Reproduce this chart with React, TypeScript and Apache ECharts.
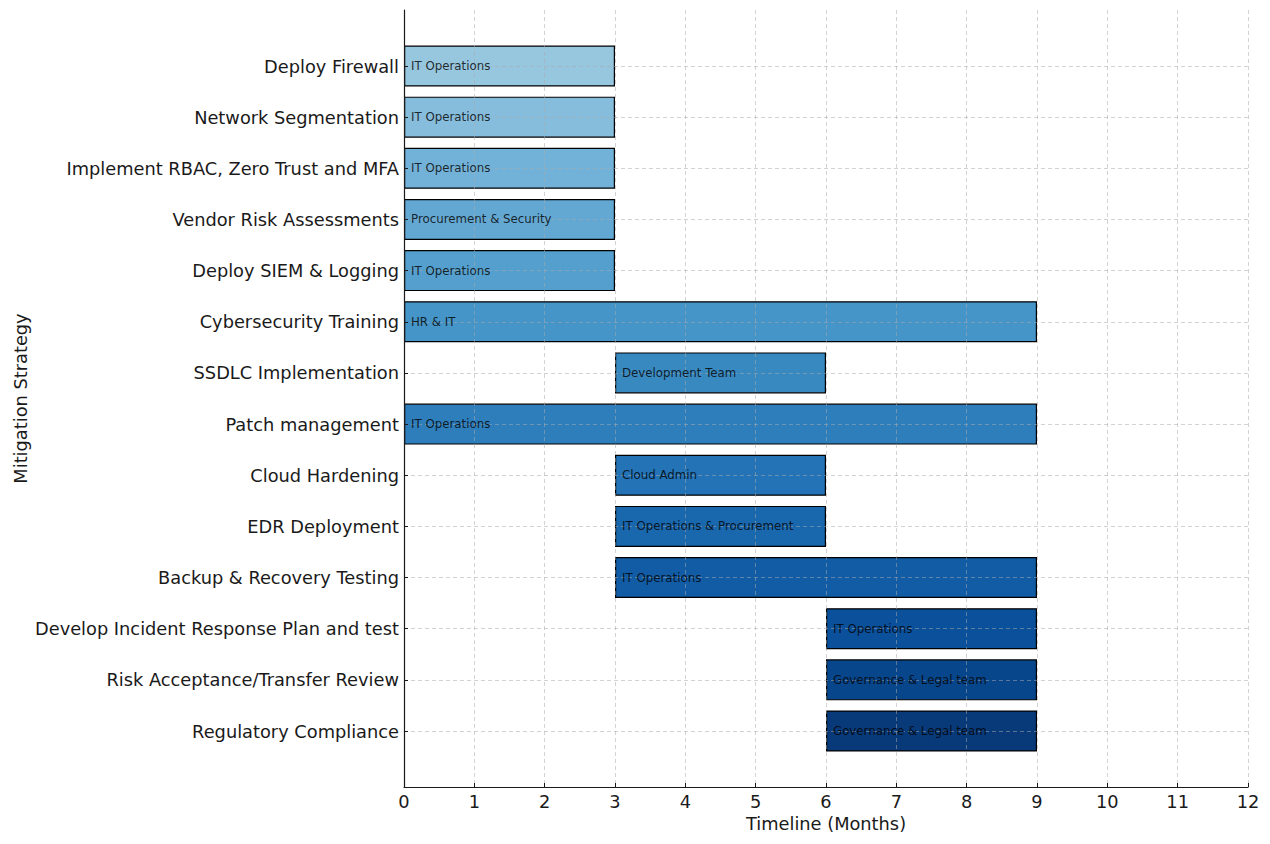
import React, { useEffect, useRef } from "react";
import * as echarts from "echarts";

const categories = [
  "Deploy Firewall",
  "Network Segmentation",
  "Implement RBAC, Zero Trust and MFA",
  "Vendor Risk Assessments",
  "Deploy SIEM & Logging",
  "Cybersecurity Training",
  "SSDLC Implementation",
  "Patch management",
  "Cloud Hardening",
  "EDR Deployment",
  "Backup & Recovery Testing",
  "Develop Incident Response Plan and test",
  "Risk Acceptance/Transfer Review",
  "Regulatory Compliance",
];
const startMonths = [0, 0, 0, 0, 0, 0, 3, 0, 3, 3, 3, 6, 6, 6];
const endMonths = [3, 3, 3, 3, 3, 9, 6, 9, 6, 6, 9, 9, 9, 9];
const owners = [
  "IT Operations",
  "IT Operations",
  "IT Operations",
  "Procurement & Security",
  "IT Operations",
  "HR & IT",
  "Development Team",
  "IT Operations",
  "Cloud Admin",
  "IT Operations & Procurement",
  "IT Operations",
  "IT Operations",
  "Governance & Legal team",
  "Governance & Legal team",
];
const barColors = [
  "#97c6df",
  "#86bcdc",
  "#73b2d8",
  "#63a8d3",
  "#549fcd",
  "#4695c8",
  "#3989c1",
  "#2f7ebc",
  "#2373b6",
  "#1967ad",
  "#125ca5",
  "#0b509b",
  "#08468b",
  "#083a7a",
];
const xTicks = [0, 12, 1];

const FONT = "DejaVu Sans";
const AX = 17.8;

export default function App() {
  const ref = useRef<HTMLDivElement>(null);
  useEffect(() => {
    if (!ref.current) return;
    const chart = echarts.init(ref.current, null, { renderer: "svg" });
    const dash = { color: "rgba(170,170,170,0.65)", type: [4, 3] as any, width: 0.8 };
    chart.setOption({
      animation: false,
      textStyle: { fontFamily: FONT },
      grid: [
        { left: 404, right: 22, top: 10, bottom: 57 },
        { left: 404, right: 22, top: 66, height: 665 },
      ],
      xAxis: [
        {
          type: "value",
          gridIndex: 0,
          min: xTicks[0],
          max: xTicks[1],
          interval: xTicks[2],
          z: 5,
          name: "Timeline (Months)",
          nameLocation: "middle",
          nameGap: 27,
          nameTextStyle: { fontFamily: FONT, fontSize: AX, color: "#1a1a1a" },
          axisLine: { show: true, lineStyle: { color: "#1a1a1a", width: 1.2 } },
          axisTick: { show: true, inside: true, length: 4, lineStyle: { color: "#1a1a1a" } },
          axisLabel: { fontFamily: FONT, fontSize: AX, color: "#1a1a1a", margin: 5 },
          splitLine: { show: true, lineStyle: dash },
        },
        {
          type: "value",
          gridIndex: 1,
          min: xTicks[0],
          max: xTicks[1],
          interval: xTicks[2],
          show: false,
        },
      ],
      yAxis: [
        {
          type: "value",
          gridIndex: 0,
          min: 0,
          max: 1,
          z: 5,
          name: "Mitigation Strategy",
          nameLocation: "middle",
          nameGap: 375,
          nameTextStyle: { fontFamily: FONT, fontSize: AX, color: "#1a1a1a" },
          axisLine: { show: true, lineStyle: { color: "#1a1a1a", width: 1.2 } },
          axisTick: { show: false },
          axisLabel: { show: false },
          splitLine: { show: false },
        },
        {
          type: "category",
          gridIndex: 1,
          data: categories,
          inverse: true,
          boundaryGap: false,
          z: 5,
          axisLine: { show: false },
          axisTick: { show: true, inside: true, length: 4, alignWithLabel: true, lineStyle: { color: "#1a1a1a" } },
          axisLabel: { fontFamily: FONT, fontSize: AX, color: "#1a1a1a", margin: 5, interval: 0 },
          splitLine: { show: true, interval: 0, lineStyle: dash },
        },
      ],
      series: [
        {
          type: "bar",
          name: "start",
          xAxisIndex: 1,
          yAxisIndex: 1,
          stack: "gantt",
          silent: true,
          barWidth: 41,
          itemStyle: { color: "transparent", borderWidth: 0 },
          data: startMonths,
          z: 2,
        },
        {
          type: "bar",
          name: "duration",
          xAxisIndex: 1,
          yAxisIndex: 1,
          stack: "gantt",
          barWidth: 41,
          z: 2,
          data: endMonths.map((e, i) => ({
            value: e - startMonths[i],
            itemStyle: { color: barColors[i], borderColor: "#000", borderWidth: 1.2 },
          })),
        },
        {
          type: "scatter",
          name: "owner",
          xAxisIndex: 1,
          yAxisIndex: 1,
          symbolSize: 0,
          silent: true,
          z: 10,
          data: startMonths.map((s, i) => ({
            value: [s, i],
            label: {
              show: true,
              position: "right",
              distance: 7,
              formatter: owners[i],
              fontFamily: FONT,
              fontSize: 11.8,
              color: "#000",
            },
          })),
        },
      ],
    });
    return () => chart.dispose();
  }, []);
  return (
    <div
      ref={ref}
      style={{ position: "fixed", left: 0, top: 0, width: 1270, height: 844, background: "#fff" }}
    />
  );
}
